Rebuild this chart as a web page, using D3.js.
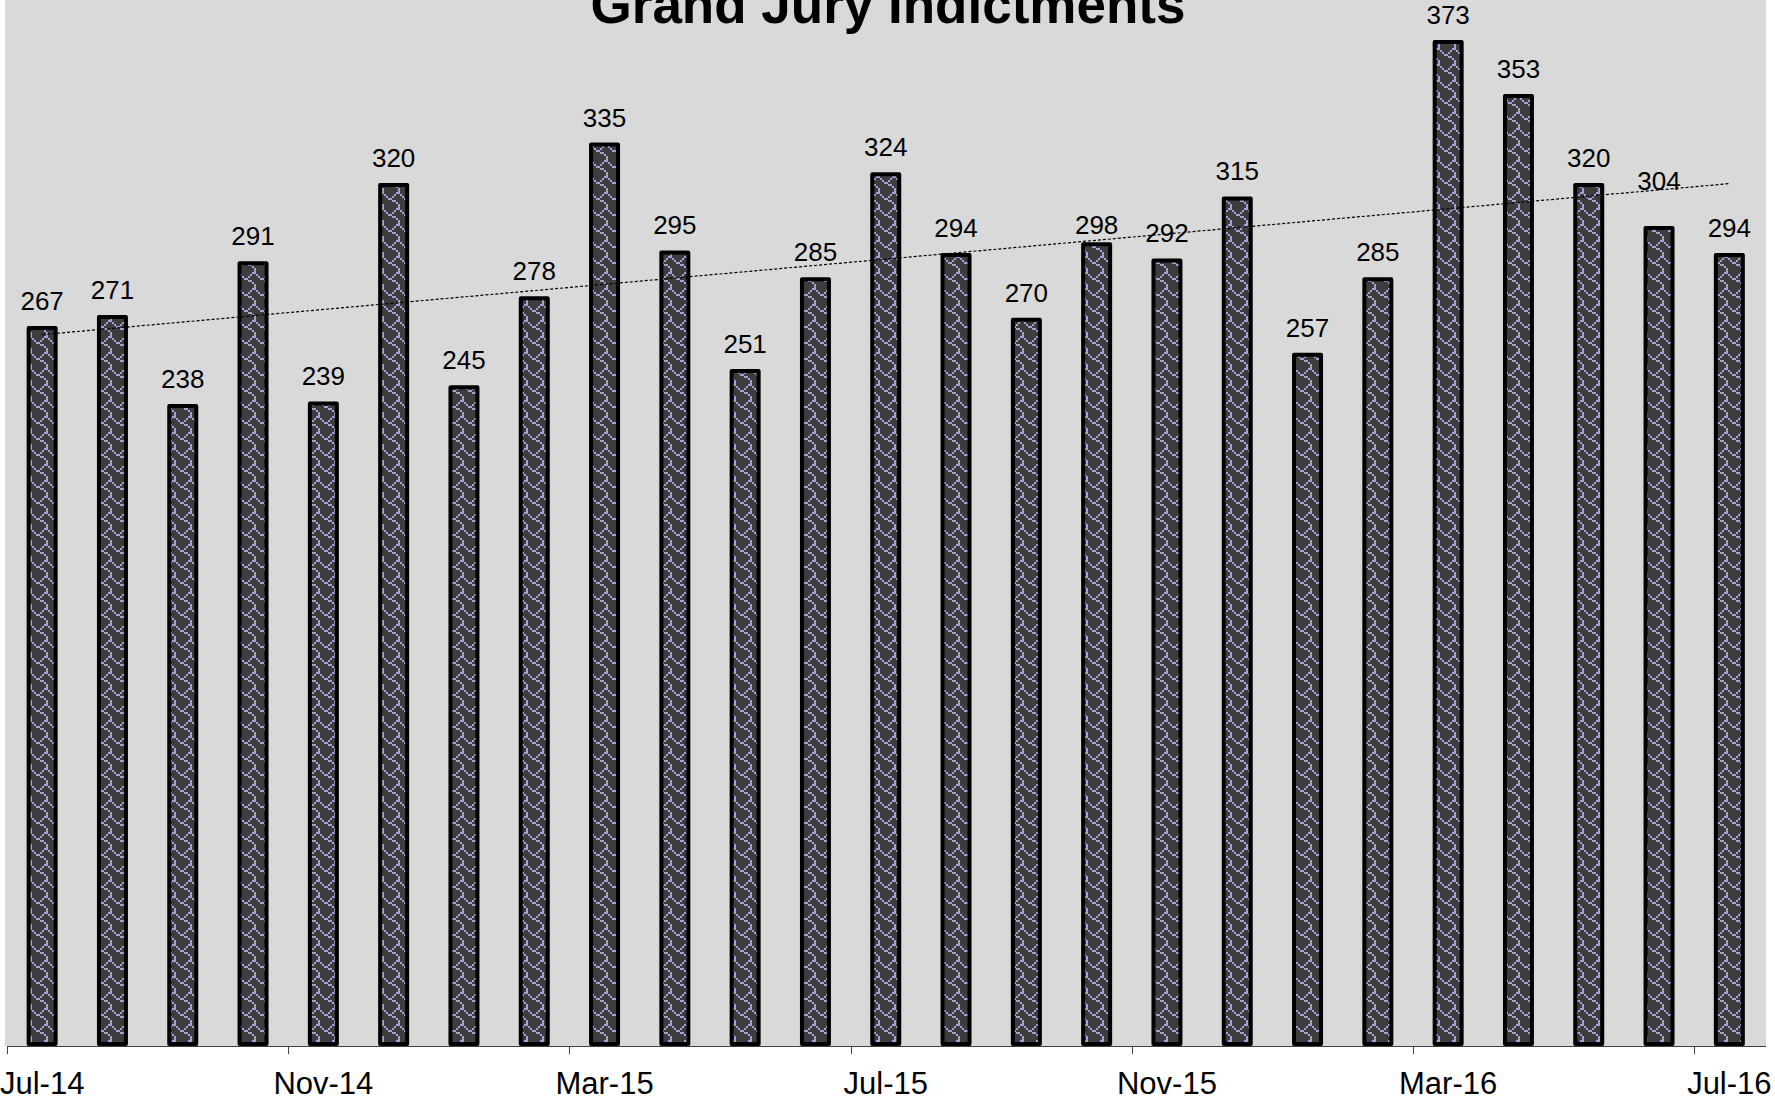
<!DOCTYPE html>
<html>
<head>
<meta charset="utf-8">
<script src="https://cdn.jsdelivr.net/npm/d3@7"></script>
<style>
  html, body { margin: 0; padding: 0; background: #ffffff; }
  svg { display: block; font-family: "Liberation Sans", Arial, sans-serif; }
</style>
</head>
<body>
<script>
// ---- data ----
const categories = ["Jul-14","Aug-14","Sep-14","Oct-14","Nov-14","Dec-14","Jan-15","Feb-15",
  "Mar-15","Apr-15","May-15","Jun-15","Jul-15","Aug-15","Sep-15","Oct-15","Nov-15","Dec-15",
  "Jan-16","Feb-16","Mar-16","Apr-16","May-16","Jun-16","Jul-16"];
const indictments = [267,271,238,291,239,320,245,278,335,295,251,285,324,294,270,298,292,315,
  257,285,373,353,320,304,294];
const tickLabels = ["Jul-14","Nov-14","Mar-15","Jul-15","Nov-15","Mar-16","Jul-16"];
const titleText = "Grand Jury Indictments";

// ---- layout ----
const W = 1775, H = 1103;
const plotLeft = 5, plotRight = 1766, baseY = 1046;
const bandStart = 7, step = 70.3;
const barStroke = 4;
const labelNudge = {"Oct-15": 8, "Jun-16": -20};

const svg = d3.select("body").append("svg").attr("width", W).attr("height", H);

// pattern (shingle-like bitmap, 8x8 scaled x2)
const bits = [0x03,0x84,0x48,0x30,0x0c,0x02,0x01,0x01];
const px = 2;
const defs = svg.append("defs");
const pat = defs.append("pattern").attr("id","shingle").attr("patternUnits","userSpaceOnUse")
  .attr("width", 8*px).attr("height", 8*px);
pat.append("rect").attr("width", 8*px).attr("height", 8*px).attr("fill", "#3d3d3d");
bits.forEach((b, r) => {
  for (let c = 0; c < 8; c++) {
    if (b & (0x80 >> c)) {
      pat.append("rect").attr("x", c*px).attr("y", r*px).attr("width", px).attr("height", px)
        .attr("fill", "#ad9dd6");
    }
  }
});

// plot area background
svg.append("rect").attr("x", plotLeft).attr("y", 0)
  .attr("width", plotRight - plotLeft).attr("height", baseY)
  .attr("fill", "#d9d9d9");

// scales
const pInner = 1 - 31/step;
const x = d3.scaleBand().domain(categories)
  .range([bandStart, bandStart + step*categories.length])
  .paddingInner(pInner).paddingOuter(pInner/2);
const y = d3.scaleLinear().domain([0, 400]).range([baseY, baseY - 400*2.697]);

// bars
svg.append("g").selectAll("rect").data(categories).join("rect")
  .attr("x", d => x(d) + barStroke/2)
  .attr("width", x.bandwidth() - barStroke)
  .attr("y", (d,i) => y(indictments[i]) + barStroke/2)
  .attr("height", (d,i) => y(0) - y(indictments[i]) - barStroke)
  .attr("fill", "url(#shingle)")
  .attr("stroke", "#000")
  .attr("stroke-width", barStroke)
  .attr("stroke-linejoin", "round");

// trend line (least squares)
const n = indictments.length;
const xs = d3.range(n);
const mx = d3.mean(xs), my = d3.mean(indictments);
const slope = d3.sum(xs, i => (i-mx)*(indictments[i]-my)) / d3.sum(xs, i => (i-mx)*(i-mx));
const icpt = my - slope*mx;
const cx = c => x(c) + x.bandwidth()/2;
svg.append("line")
  .attr("x1", cx(categories[0])).attr("y1", y(icpt))
  .attr("x2", cx(categories[n-1])).attr("y2", y(icpt + slope*(n-1)))
  .attr("stroke", "#000").attr("stroke-width", 1.2).attr("stroke-dasharray", "3,2");

// value labels
svg.append("g").selectAll("text").data(categories).join("text")
  .attr("x", d => cx(d))
  .attr("y", (d,i) => y(indictments[i]) - 16 + (labelNudge[d] || 0))
  .attr("text-anchor", "middle")
  .attr("font-size", 26)
  .attr("fill", "#000")
  .text((d,i) => indictments[i]);

// x axis
const axisG = svg.append("g");
axisG.append("line").attr("x1", bandStart).attr("x2", plotRight)
  .attr("y1", baseY + 0.5).attr("y2", baseY + 0.5)
  .attr("stroke", "#404040").attr("stroke-width", 1);
const tickIdx = tickLabels.map(t => categories.indexOf(t));
axisG.selectAll("line.tick").data(tickIdx).join("line").attr("class","tick")
  .attr("x1", i => Math.round(x(categories[i]) - x.step()*pInner/2) + 0.5)
  .attr("x2", i => Math.round(x(categories[i]) - x.step()*pInner/2) + 0.5)
  .attr("y1", baseY).attr("y2", baseY + 8)
  .attr("stroke", "#404040").attr("stroke-width", 1);
axisG.selectAll("text").data(tickLabels).join("text")
  .attr("x", d => cx(d))
  .attr("y", 1094)
  .attr("text-anchor", "middle")
  .attr("font-size", 31)
  .attr("fill", "#000")
  .text(d => d);

// title
svg.append("text").attr("x", 888).attr("y", 23)
  .attr("text-anchor", "middle")
  .attr("font-size", 53).attr("font-weight", "bold")
  .attr("fill", "#000")
  .text(titleText);
</script>
</body>
</html>
